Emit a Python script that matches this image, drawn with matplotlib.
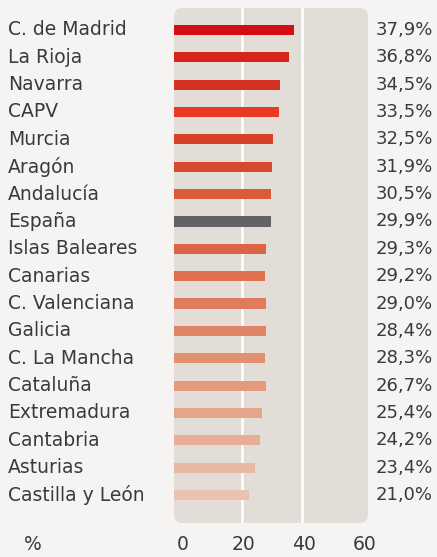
import matplotlib
matplotlib.use("Agg")
import matplotlib.pyplot as plt
from matplotlib.patches import FancyBboxPatch
from matplotlib.transforms import blended_transform_factory

# Data
regions = ["C. de Madrid", "La Rioja", "Navarra", "CAPV", "Murcia", "Aragón",
           "Andalucía", "España", "Islas Baleares", "Canarias", "C. Valenciana",
           "Galicia", "C. La Mancha", "Cataluña", "Extremadura", "Cantabria",
           "Asturias", "Castilla y León"]
# bar lengths as drawn in the picture
bar_values = [37.3, 35.6, 32.7, 32.3, 30.4, 30.0, 29.7, 29.7, 28.1, 27.7,
              28.1, 28.1, 27.7, 28.1, 26.7, 26.1, 24.4, 22.4]
# printed labels
label_values = ["37,9%", "36,8%", "34,5%", "33,5%", "32,5%", "31,9%", "30,5%",
                "29,9%", "29,3%", "29,2%", "29,0%", "28,4%", "28,3%", "26,7%",
                "25,4%", "24,2%", "23,4%", "21,0%"]
colors = ["#d40c14", "#d6261c", "#d33122", "#e83a25", "#d74029", "#d84a30",
          "#db5a3a", "#636363", "#dc6445", "#df7050", "#e07b5d", "#e08468",
          "#e29070", "#e49a7c", "#e5a58a", "#e8ad95", "#e9b8a3", "#eac2b1"]
xticks = [0, 20, 40, 60]

bg = "#f5f4f2"
panel = "#e2ddd6"
txt = "#3a3a3a"
font = "DejaVu Sans"

W, H = 437, 557
fig = plt.figure(figsize=(W / 100, H / 100), dpi=100, facecolor=bg)
ax = fig.add_axes([174 / W, (H - 523) / H, (368 - 174) / W, (523 - 8) / H])
ax.patch.set_visible(False)

x_min, x_max = -2.3, 61.7
n = len(regions)
ax.set_xlim(x_min, x_max)
ax.set_ylim(n - 1 + 1.02, -0.8)

ax.add_patch(FancyBboxPatch((0, 0), 1, 1, boxstyle="round,pad=0,rounding_size=0.045",
                            transform=ax.transAxes, facecolor=panel, edgecolor="none",
                            zorder=0, mutation_aspect=194 / 515))
for g in xticks[1:3]:
    ax.axvline(g, color="white", lw=1.9, zorder=1)

ys = list(range(n))
ax.barh(ys, [v - x_min for v in bar_values], left=x_min, height=0.37,
        color=colors, zorder=2)

row_tr = blended_transform_factory(fig.transFigure, ax.transData)
for y, name, lab in zip(ys, regions, label_values):
    ax.text(8 / W, y, name, transform=row_tr, fontsize=13.5,
            color=txt, va="center", ha="left", family=font)
    ax.text(376 / W, y, lab, transform=row_tr,
            fontsize=13, color=txt, va="center", ha="left", family=font)

for s in ax.spines.values():
    s.set_visible(False)
ax.set_xticks([])
ax.set_yticks([])

tick_tr = blended_transform_factory(ax.transData, fig.transFigure)
for t in xticks:
    ax.text(t + 0.7, 1 - 545 / H, str(t), transform=tick_tr, fontsize=13.5,
            color=txt, ha="center", va="center", family=font)
fig.text(33 / W, 1 - 545 / H, "%", fontsize=13.5, color=txt, ha="center",
         va="center", family=font)

fig.savefig("out.png", dpi=100, facecolor=bg)
